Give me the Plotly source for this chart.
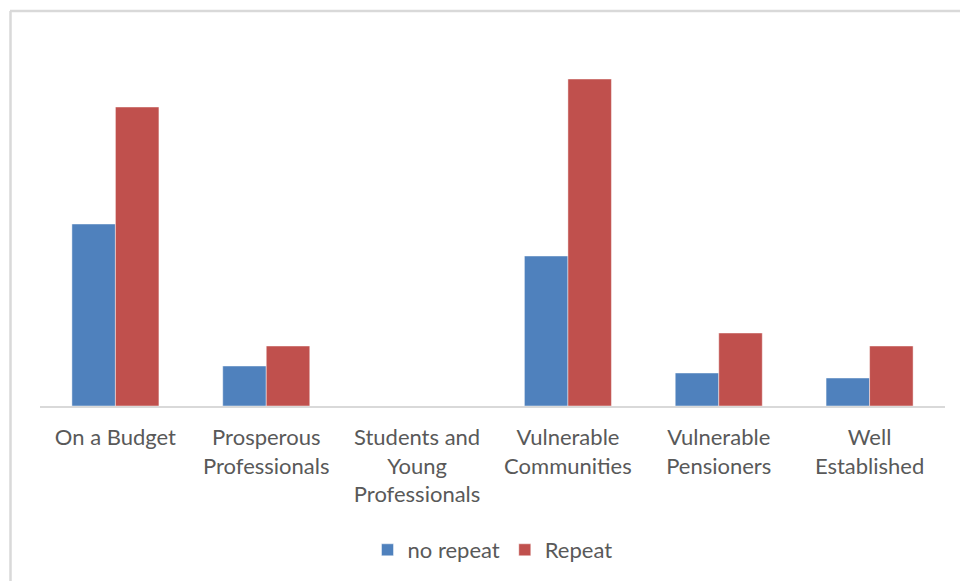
import plotly.graph_objects as go

categories = ["On a Budget", "Prosperous<br>Professionals", "Students and<br>Young<br>Professionals",
              "Vulnerable<br>Communities", "Vulnerable<br>Pensioners", "Well<br>Established"]
no_repeat = [18.2, 4.0, 0.0, 15.0, 3.3, 2.8]
repeat = [29.9, 6.0, 0.0, 32.7, 7.3, 6.0]

BLUE = "#4F81BD"
RED = "#C0504D"
FONT = "Lato"
TXT = "#595959"

fig = go.Figure()
fig.add_trace(go.Bar(x=categories, y=no_repeat, name="no repeat", marker_color=BLUE,
                     marker_line=dict(color="rgba(255,255,255,0.45)", width=1)))
fig.add_trace(go.Bar(x=categories, y=repeat, name="Repeat", marker_color=RED,
                     marker_line=dict(color="rgba(255,255,255,0.45)", width=1)))

# plot area: x 40..945, y 40..406 px
W, H = 960, 581
L, R, T, B = 40, 15, 40, 175
ph = H - T - B
pw = W - L - R

def px_x(p):
    return (p - L) / pw

def px_y(p):
    return (H - B - p) / ph

fig.add_shape(type="line", xref="paper", yref="paper", x0=px_x(10), x1=px_x(962),
              y0=px_y(11), y1=px_y(11), line=dict(color="#d9d9d9", width=2.5))
fig.add_shape(type="line", xref="paper", yref="paper", x0=px_x(10.5), x1=px_x(10.5),
              y0=px_y(11), y1=px_y(585), line=dict(color="#d9d9d9", width=2.5))

fig.update_layout(
    width=W, height=H,
    margin=dict(l=L, r=R, t=T, b=B, autoexpand=False),
    paper_bgcolor="white", plot_bgcolor="white",
    barmode="group", bargap=0.423, bargroupgap=0,
    font=dict(family=FONT, size=22, color=TXT),
    showlegend=True,
    legend=dict(orientation="h", x=0.5, xanchor="center", y=px_y(550), yanchor="middle",
                font=dict(family=FONT, size=22, color=TXT), itemwidth=30,
                traceorder="normal"),
    xaxis=dict(showline=True, linecolor="#d9d9d9", linewidth=1.5, showgrid=False,
               ticks="outside", ticklen=11, tickcolor="rgba(0,0,0,0)",
               tickfont=dict(family=FONT, size=22, color=TXT), fixedrange=True),
    yaxis=dict(range=[0, ph / 10], showgrid=False, showticklabels=False, zeroline=False,
               showline=False, fixedrange=True),
)

fig.write_html("out.html", config={"displayModeBar": False},
               post_script="document.body.style.margin='0';document.body.style.overflow='hidden';")
